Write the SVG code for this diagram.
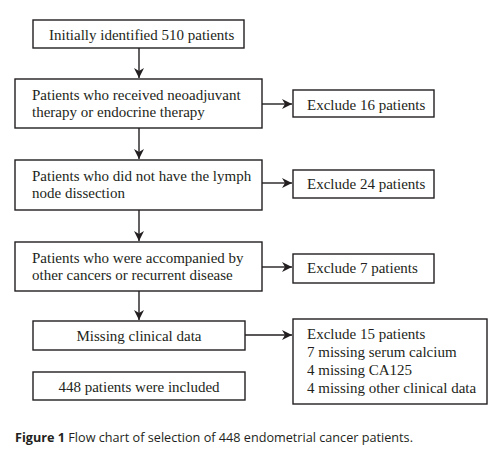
<svg xmlns="http://www.w3.org/2000/svg" width="497" height="463" viewBox="0 0 497 463">
<style>
.box{fill:#fff;stroke:#231f20;stroke-width:1.4}
.t{font-family:"Liberation Serif","Times New Roman",serif;font-size:15px;fill:#231f20}
.c{font-family:"Open Sans","Liberation Sans",Arial,sans-serif;font-size:12px;fill:#231f20}
.conn{stroke:#231f20;stroke-width:1.4;fill:none;marker-end:url(#ah)}
</style>
<defs>
<marker id="ah" viewBox="0 0 10 10" refX="10" refY="5" markerWidth="10" markerHeight="10" markerUnits="userSpaceOnUse" orient="auto">
<path d="M0,0 L10,5 L0,10 L3,5 Z" fill="#231f20"/>
</marker>
</defs>
<rect width="497" height="463" fill="#fff"/>
<g id="connectors">
<line class="conn" x1="139" y1="48" x2="139" y2="78"/>
<line class="conn" x1="139" y1="128" x2="139" y2="159"/>
<line class="conn" x1="139" y1="210" x2="139" y2="241"/>
<line class="conn" x1="139" y1="291" x2="139" y2="320"/>
<line class="conn" x1="262" y1="104" x2="292" y2="104"/>
<line class="conn" x1="262" y1="183" x2="292" y2="183"/>
<line class="conn" x1="262" y1="267" x2="292" y2="267"/>
<line class="conn" x1="245" y1="335" x2="292" y2="335"/>
</g>
<g id="n1"><rect class="box" x="33" y="20" width="211" height="28"/><text class="t" x="49" y="40">Initially identified 510 patients</text></g>
<g id="n2"><rect class="box" x="15" y="79" width="247" height="49"/><text class="t" x="32" y="100">Patients who received neoadjuvant</text><text class="t" x="32" y="117">therapy or endocrine therapy</text></g>
<g id="e1"><rect class="box" x="293" y="90" width="141" height="27"/><text class="t" x="307" y="110">Exclude 16 patients</text></g>
<g id="n3"><rect class="box" x="15" y="160" width="247" height="50"/><text class="t" x="32" y="181">Patients who did not have the lymph</text><text class="t" x="32" y="198">node dissection</text></g>
<g id="e2"><rect class="box" x="293" y="170" width="141" height="28"/><text class="t" x="307" y="189">Exclude 24 patients</text></g>
<g id="n4"><rect class="box" x="15" y="242" width="247" height="49"/><text class="t" x="32" y="263">Patients who were accompanied by</text><text class="t" x="32" y="280">other cancers or recurrent disease</text></g>
<g id="e3"><rect class="box" x="293" y="254" width="141" height="29"/><text class="t" x="307" y="273">Exclude 7 patients</text></g>
<g id="n5"><rect class="box" x="33" y="321" width="212" height="29"/><text class="t" x="139" y="341" text-anchor="middle">Missing clinical data</text></g>
<g id="e4"><rect class="box" x="293" y="319" width="194" height="85"/><text class="t" x="307" y="339">Exclude 15 patients</text><text class="t" x="307" y="357">7 missing serum calcium</text><text class="t" x="307" y="375">4 missing CA125</text><text class="t" x="307" y="393">4 missing other clinical data</text></g>
<g id="n6"><rect class="box" x="33" y="372" width="212" height="28"/><text class="t" x="139" y="392" text-anchor="middle">448 patients were included</text></g>
<text class="c" x="15" y="442" textLength="398" lengthAdjust="spacingAndGlyphs"><tspan font-weight="bold">Figure 1</tspan> Flow chart of selection of 448 endometrial cancer patients.</text>
</svg>
